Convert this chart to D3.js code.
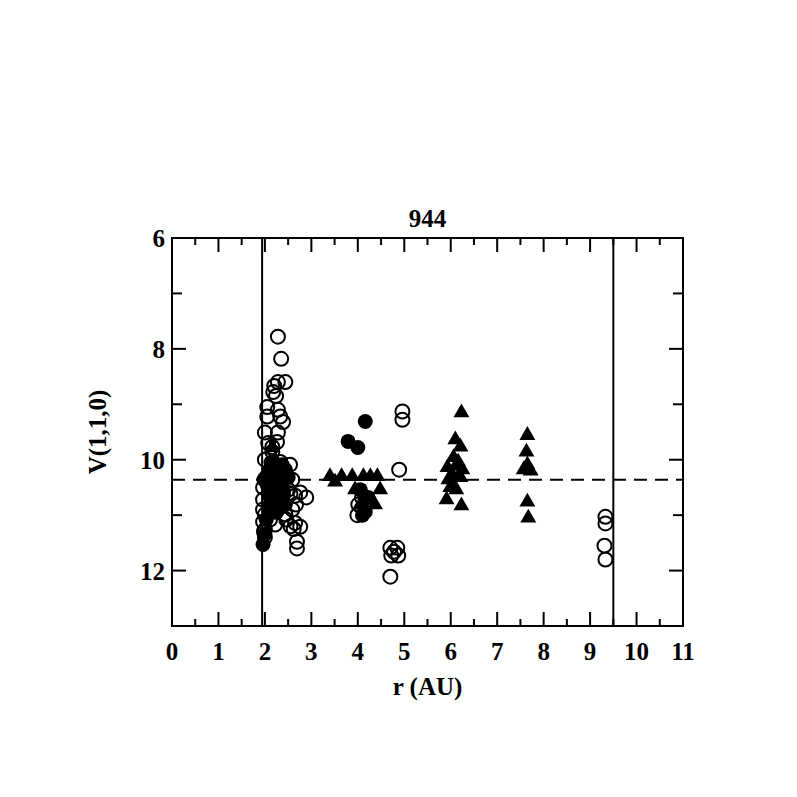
<!doctype html>
<html lang="en">
<head>
  <meta charset="utf-8">
  <title>944</title>
  <script src="https://d3js.org/d3.v7.min.js"></script>
  <style>
    body { margin: 0; background: #fff; }
    text { font-family: "Liberation Serif", "DejaVu Serif", serif; font-weight: bold; fill: #000; }
  </style>
</head>
<body>
  <div id="svg_container"></div>
  <script>
  // open circles: [r, V]
  var openCircles = [
    [2.28, 7.78], [2.35, 8.18], [2.44, 8.60], [2.28, 8.60], [2.20, 8.67], [2.18, 8.78],
    [2.24, 8.85], [2.05, 9.05], [2.28, 9.10], [2.33, 9.22], [2.39, 9.32], [2.05, 9.22],
    [2.00, 9.51], [2.28, 9.51], [2.26, 9.68], [2.16, 9.77], [2.07, 9.70], [2.16, 9.86],
    [2.00, 10.00], [2.54, 10.09], [2.41, 10.18], [2.59, 10.36], [2.03, 10.32], [2.76, 10.59],
    [2.89, 10.68], [2.67, 10.81], [2.59, 10.90], [2.44, 10.99], [2.65, 11.14], [2.76, 11.21],
    [2.69, 11.48], [2.69, 11.60], [1.96, 10.72], [2.00, 10.99], [2.00, 11.26], [2.11, 11.08],
    [2.28, 10.81], [2.22, 11.17], [2.39, 10.63], [2.50, 10.54], [2.11, 10.54], [1.96, 10.50],
    [2.24, 10.45], [2.33, 10.04], [2.46, 11.08], [1.96, 11.12], [1.96, 10.90],
    [1.98, 11.30], [2.00, 11.40], [2.55, 10.62], [2.65, 10.65], [2.55, 11.20], [2.62, 11.25],
    [3.99, 11.00], [4.01, 10.81], [4.09, 10.68],
    [4.89, 10.18], [4.96, 9.13], [4.96, 9.28],
    [4.70, 11.59], [4.85, 11.59], [4.72, 11.73], [4.87, 11.73], [4.78, 11.66], [4.70, 12.11],
    [9.33, 11.03], [9.33, 11.15], [9.31, 11.55], [9.33, 11.80]
  ];
  // filled circles
  var filledCircles = [
    [1.96, 11.53], [2.00, 11.35], [1.98, 10.36], [2.11, 10.18], [2.22, 10.27], [2.37, 10.09],
    [2.07, 10.63], [2.16, 10.81], [2.28, 10.32], [2.44, 10.18], [2.03, 11.08], [2.22, 10.50],
    [2.50, 10.32], [2.33, 10.72], [2.11, 10.94], [2.44, 10.81],
    [2.05, 10.45], [2.15, 10.40], [2.30, 10.60], [2.18, 10.60], [2.07, 10.85], [2.25, 10.95],
    [2.35, 10.40], [2.40, 10.55], [2.13, 10.05], [2.30, 10.15],
    [4.16, 9.31], [3.79, 9.67], [4.00, 9.78], [4.05, 10.54], [4.22, 10.68], [4.16, 10.94], [4.10, 11.00]
  ];
  // filled triangles
  var triangles = [
    [2.16, 9.78], [2.11, 10.72], [2.33, 10.54], [2.22, 10.00],
    [3.40, 10.30], [3.65, 10.30], [3.88, 10.30], [4.12, 10.30], [4.27, 10.30], [4.42, 10.30],
    [3.51, 10.40], [3.94, 10.54], [4.16, 10.63], [4.48, 10.54], [4.27, 10.72], [4.05, 10.81], [4.37, 10.81],
    [6.23, 9.15], [6.10, 9.64], [6.21, 9.77], [6.06, 9.96], [5.93, 10.14], [6.14, 10.11],
    [6.03, 10.27], [6.25, 10.18], [5.95, 10.36], [6.21, 10.32], [6.12, 10.54], [5.91, 10.72],
    [6.23, 10.83], [5.99, 10.50], [6.16, 10.04],
    [7.65, 9.56], [7.63, 9.86], [7.65, 10.09], [7.57, 10.18], [7.72, 10.20], [7.65, 10.76], [7.67, 11.05]
  ];
  var xTicks = [0, 1, 2, 3, 4, 5, 6, 7, 8, 9, 10, 11];
  var yTicks = [6, 8, 10, 12];
  var vLines = [1.94, 9.5];
  var meanV = 10.36;
  var title = "944";

  var width = 797, height = 797;
  var pL = 172, pR = 683, pT = 238, pB = 626;

  var svg = d3.select("#svg_container").append("svg")
      .attr("width", width).attr("height", height);

  var x = d3.scaleLinear().domain([0, 11]).range([pL, pR]);
  var y = d3.scaleLinear().domain([6, 13]).range([pT, pB]);

  // ticks (major + minor), on all four sides
  var xMinor = d3.range(0.5, 11, 1);
  var yMinor = [7, 9, 11];
  var g = svg.append("g").attr("stroke", "#000").attr("stroke-width", 2);
  function xt(v, len) {
    g.append("line").attr("x1", x(v)).attr("x2", x(v)).attr("y1", pB).attr("y2", pB - len);
    g.append("line").attr("x1", x(v)).attr("x2", x(v)).attr("y1", pT).attr("y2", pT + len);
  }
  function yt(v, len) {
    g.append("line").attr("y1", y(v)).attr("y2", y(v)).attr("x1", pL).attr("x2", pL + len);
    g.append("line").attr("y1", y(v)).attr("y2", y(v)).attr("x1", pR).attr("x2", pR - len);
  }
  xTicks.forEach(function(v){ xt(v, 14); });
  xMinor.forEach(function(v){ xt(v, 7); });
  yTicks.forEach(function(v){ yt(v, 14); });
  yMinor.forEach(function(v){ yt(v, 10); });

  svg.append("rect")
      .attr("x", pL).attr("y", pT)
      .attr("width", pR - pL).attr("height", pB - pT)
      .attr("fill", "none").attr("stroke", "#000").attr("stroke-width", 2);

  // vertical limits and mean line
  svg.selectAll("line.vl").data(vLines).enter().append("line")
      .attr("class", "vl")
      .attr("x1", function(d){ return x(d); }).attr("x2", function(d){ return x(d); })
      .attr("y1", pT).attr("y2", pB)
      .attr("stroke", "#000").attr("stroke-width", 2);
  svg.append("line")
      .attr("x1", pL).attr("x2", pR)
      .attr("y1", y(meanV)).attr("y2", y(meanV))
      .attr("stroke", "#000").attr("stroke-width", 2)
      .attr("stroke-dasharray", "13,8");

  // points
  svg.selectAll("circle.open").data(openCircles).enter().append("circle")
      .attr("class", "open")
      .attr("cx", function(d){ return x(d[0]); })
      .attr("cy", function(d){ return y(d[1]); })
      .attr("r", 7)
      .attr("fill", "none").attr("stroke", "#000").attr("stroke-width", 2);
  svg.selectAll("circle.filled").data(filledCircles).enter().append("circle")
      .attr("class", "filled")
      .attr("cx", function(d){ return x(d[0]); })
      .attr("cy", function(d){ return y(d[1]); })
      .attr("r", 7.5)
      .attr("fill", "#000");
  var tri = d3.symbol().type(d3.symbolTriangle).size(110);
  svg.selectAll("path.tri").data(triangles).enter().append("path")
      .attr("class", "tri")
      .attr("d", tri)
      .attr("transform", function(d){ return "translate(" + x(d[0]) + "," + y(d[1]) + ")"; })
      .attr("fill", "#000");

  // labels
  svg.selectAll("text.xl").data(xTicks).enter().append("text")
      .attr("class", "xl")
      .attr("x", function(d){ return x(d); })
      .attr("y", 660)
      .attr("text-anchor", "middle")
      .attr("font-size", 25)
      .text(function(d){ return d; });
  svg.selectAll("text.yl").data(yTicks).enter().append("text")
      .attr("class", "yl")
      .attr("x", 165)
      .attr("y", function(d){ return y(d) + 9; })
      .attr("text-anchor", "end")
      .attr("font-size", 25)
      .text(function(d){ return d; });
  svg.append("text")
      .attr("x", (pL + pR) / 2).attr("y", 227)
      .attr("text-anchor", "middle").attr("font-size", 25)
      .text(title);
  svg.append("text")
      .attr("x", (pL + pR) / 2).attr("y", 695)
      .attr("text-anchor", "middle").attr("font-size", 25)
      .text("r (AU)");
  svg.append("text")
      .attr("transform", "translate(106," + ((pT + pB) / 2) + ") rotate(-90)")
      .attr("text-anchor", "middle").attr("font-size", 25)
      .text("V(1,1,0)");
  </script>
</body>
</html>
